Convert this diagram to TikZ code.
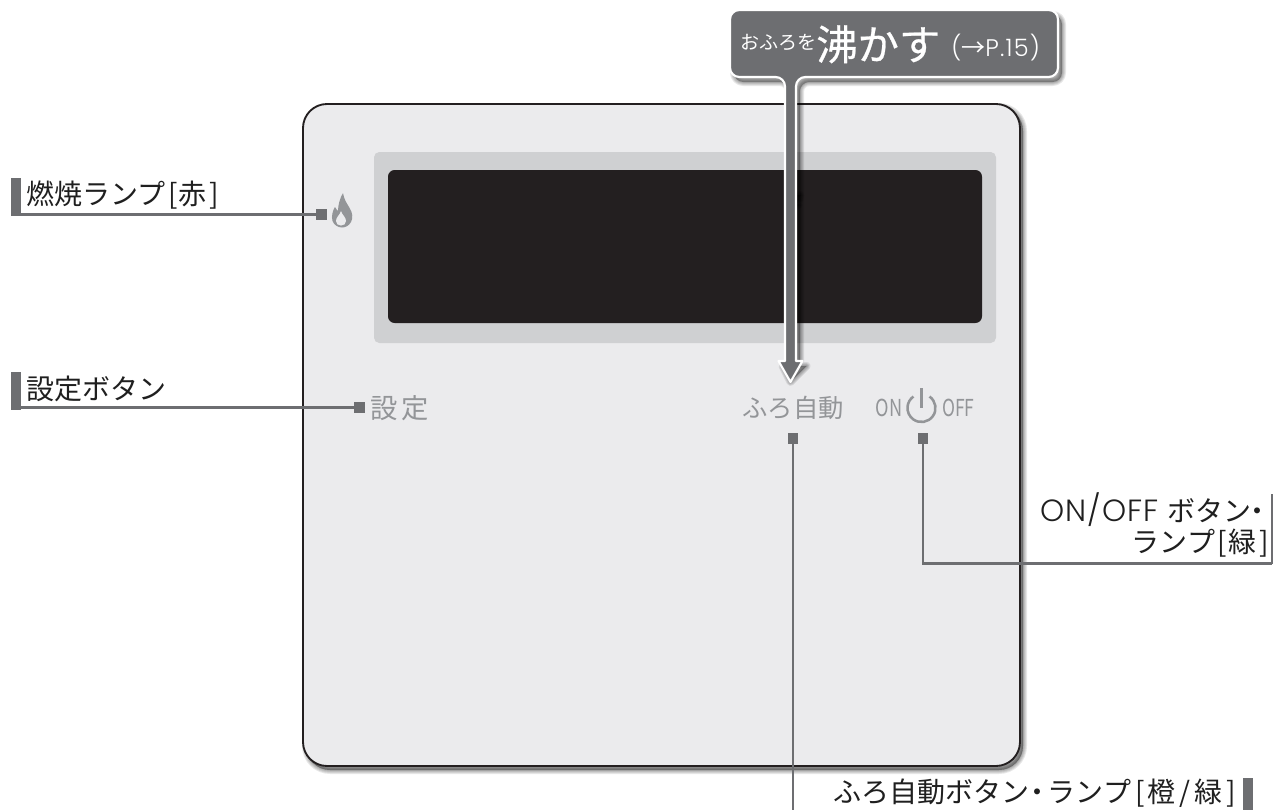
\documentclass[tikz,border=0pt]{standalone}
\usepackage{fontspec}
\usepackage{graphicx}
\setmainfont{Noto Sans CJK JP}
\newfontfamily\geo{Poppins Light}
\definecolor{leadc}{HTML}{6D6E71}
\definecolor{panelc}{HTML}{EBEBED}
\definecolor{screenc}{HTML}{CFD0D2}
\definecolor{lcdc}{HTML}{231F20}
\definecolor{softc}{HTML}{939598}
\newcommand{\nakaten}{\hspace{-6pt}・\hspace{-5pt}}
\newcommand{\lb}{\hspace{2pt}[\hspace{1pt}}
\newcommand{\rb}{\hspace{2pt}]}
\tikzset{
  px/.style={x=.75pt,y=-.75pt},
  lead/.style={draw=leadc,line width=2pt},
  sq/.style={fill=leadc,minimum size=8pt,inner sep=0pt,outer sep=0pt},
  barbox/.style={fill=leadc,minimum width=7.5pt,inner sep=0pt,outer sep=0pt},
  lab/.style={inner sep=0pt,font=\fontsize{21pt}{25pt}\selectfont,text=black!88},
  soft/.style={inner sep=0pt,text=softc},
  softshadow/.style={fill=black,draw=black,opacity=.09,line join=round}
}
\begin{document}
\begin{tikzpicture}[px]
\useasboundingbox (0,0) rectangle (1283,810);
% panel
\foreach \w in {6,4.5,3,1.5,0.1}{
  \path[softshadow,line width=\w pt,rounded corners=18pt] (306,107) rectangle (1023,770);
}
\draw[fill=panelc,draw=lcdc,line width=1.4pt,rounded corners=18pt] (303,104) rectangle (1020,766);
\fill[screenc,rounded corners=4pt] (374,152) rectangle (996,343);
\fill[lcdc,rounded corners=5pt] (388,170) rectangle (982,323);
% flame
\fill[softc] (343,193) .. controls (344,199) and (346,202) .. (349,207)
  .. controls (353,213) and (353,218) .. (351,222)
  .. controls (349,226) and (345,227.5) .. (342,227.5)
  .. controls (338,227.5) and (334,225) .. (332.5,221)
  .. controls (331,216) and (333,210) .. (335,207)
  .. controls (336,209) and (337,210) .. (338,211)
  .. controls (338,205) and (340,198) .. (343,193) -- cycle;
\fill[panelc] (341,211) .. controls (342,215) and (346,217) .. (346,221)
  .. controls (346,224) and (344,225.5) .. (341,225.5)
  .. controls (338,225.5) and (336,224) .. (336,221)
  .. controls (336,217) and (340,215) .. (341,211) -- cycle;
% panel labels
\node[soft,anchor=center,font=\fontsize{20.5pt}{24pt}\selectfont] (settei) at (400,408) {設\hspace{3pt}定};
\node[soft,anchor=center,font=\fontsize{19pt}{23pt}\selectfont] (furo) at (793,408) {ふろ自動};
\node[soft,anchor=center,font=\fontsize{17.5pt}{20pt}\selectfont] (on) at (889,408) {\scalebox{.78}[1]{ON}};
\node[soft,anchor=center,font=\fontsize{17.5pt}{20pt}\selectfont] (off) at (958.5,408) {\scalebox{.75}[1]{OFF}};
\coordinate (pw) at (921.5,408);
\draw[softc,line width=1.9pt] (pw) ++(6pt,8.6pt) arc[start angle=55,end angle=-235,radius=10.5pt];
\draw[softc,line width=1.9pt] (921.5,388) -- (921.5,408);
% markers
\node[sq] (s1) at (321.5,214.5) {};
\node[sq] (s2) at (359.5,407.5) {};
\node[sq] (s3) at (793,438.5) {};
\node[sq] (s4) at (923,438.5) {};
% bars
\node[barbox,minimum height=28pt] (b1) at (16,197) {};
\node[barbox,minimum height=28pt] (b2) at (16,391) {};
\node[fill=leadc,minimum width=1.5pt,minimum height=52pt,inner sep=0pt,outer sep=0pt] (b3) at (1272,529) {};
\node[barbox,minimum height=26pt] (b4) at (1248,795) {};
\coordinate (bottomend) at (793,810);
% connectors
\draw[lead] (s1.west) -- (s1.west -| b1.east);
\draw[lead] (s2.west) -- (s2.west -| b2.east);
\draw[lead] (s3.south) -- (bottomend);
\draw[lead] (s4.south) |- (b3.south);
% outer labels
\node[lab,anchor=west] (t1) at (26,195.5) {燃焼ランプ\lb 赤\rb};
\node[lab,anchor=west] (t2) at (26,389) {設定ボタン};
\node[lab,anchor=east] (t3) at (1272,510) {{\geo\fontsize{23pt}{25pt}\selectfont\addfontfeature{LetterSpace=3}ON/OFF}\hspace{7pt}ボタン\nakaten};
\node[lab,anchor=east] (t4) at (1269,543) {ランプ\lb 緑\rb};
\node[lab,anchor=west] (t5) at (833,793) {ふろ自動ボタン\hspace{-4pt}・\hspace{-3pt}ランプ\hspace{3pt}[\hspace{2pt}橙\hspace{3pt}/\hspace{3pt}緑\hspace{3pt}]};
% callout
\coordinate (tip) at (790.5,382);
\foreach \w in {6,4.5,3,1.5}{
  \path[softshadow,line width=\w pt,rounded corners=7pt,shift={(4,5)}]
    (730,10) -- (1058,10) -- (1058,77) -- (796,77) -- (796,200) -- (785,200) -- (785,77) -- (730,77) -- cycle;
  \path[softshadow,line width=\w pt,shift={(4,5)}]
    (785,190) -- (796,190) -- (796,361) -- (802.5,361) -- (tip) -- (778.5,361) -- (785,361) -- cycle;
}
\draw[draw=white,line width=1.6pt,fill=leadc,line join=round,rounded corners=7pt]
    (730,10) -- (1058,10) -- (1058,77) -- (796,77) -- (796,120) [sharp corners] -- (796,361) -- (802.5,361) -- (tip) -- (778.5,361) -- (785,361) -- (785,120) [rounded corners=7pt] -- (785,77) -- (730,77) -- cycle;
\node[inner sep=0pt,anchor=base west,text=white,font=\fontsize{14.3pt}{16pt}\selectfont] (callout1) at (740,50) {おふろを};
\node[inner sep=0pt,anchor=base west,text=white,font=\fontsize{31pt}{33pt}\selectfont] (callout2) at (816,60) {\addfontfeature{FakeBold=0.6}沸かす};
\node[inner sep=0pt,anchor=base west,text=white,font=\fontsize{18pt}{20pt}\selectfont\geo] (callout3) at (951,56) {\addfontfeature{LetterSpace=5}({\fontspec{Noto Sans CJK JP}\fontsize{18pt}{20pt}\selectfont→}P.15)};
\end{tikzpicture}
\end{document}
